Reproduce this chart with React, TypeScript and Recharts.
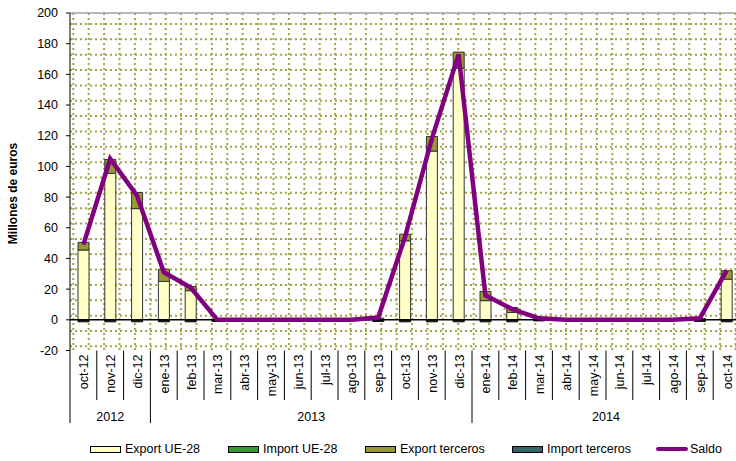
import React from 'react';
import {
  ComposedChart,
  Bar,
  Line,
  XAxis,
  YAxis,
  CartesianGrid,
  ReferenceLine,
  Legend,
} from 'recharts';

const months = [
  'oct-12', 'nov-12', 'dic-12',
  'ene-13', 'feb-13', 'mar-13', 'abr-13', 'may-13', 'jun-13', 'jul-13', 'ago-13', 'sep-13', 'oct-13', 'nov-13', 'dic-13',
  'ene-14', 'feb-14', 'mar-14', 'abr-14', 'may-14', 'jun-14', 'jul-14', 'ago-14', 'sep-14', 'oct-14',
];
const exportUE = [45.5, 95.5, 72.5, 25, 19, 0, 0, 0, 0, 0, 0, 0.6, 51.5, 110, 164, 12.5, 4.8, 0.5, 0, 0, 0, 0, 0, 0.5, 26.5];
const importUE = [-0.7, -0.7, -0.7, -0.7, -0.7, -0.6, 0, 0, 0, 0, 0, -0.6, -0.7, -0.7, -0.7, -0.7, -0.7, -0.4, 0, 0, 0, 0, 0, -0.6, -0.7];
const exportTerc = [5, 9, 10.5, 8, 2.7, 0, 0, 0, 0, 0, 0, 0.5, 4.3, 9.5, 10.5, 6, 3.2, 0.3, 0, 0, 0, 0, 0, 0.3, 5.5];
const importTerc = [-0.6, -0.6, -0.6, -0.6, -0.6, -0.5, 0, 0, 0, 0, 0, -0.5, -0.6, -0.6, -0.6, -0.6, -0.6, -0.3, 0, 0, 0, 0, 0, -0.5, -0.6];
const saldo = [49, 105, 81, 31, 21, 0, 0, 0, 0, 0, 0, 1.5, 54, 118, 173, 16, 7, 1, 0, 0, 0, 0, 0, 1, 32];
const yearLabels = ['2012', '2013', '2014'];
const yearCounts = [3, 12, 10];
const yTicks = [-20, 0, 20, 40, 60, 80, 100, 120, 140, 160, 180, 200];

const seriesNames = ['Export UE-28', 'Import UE-28', 'Export terceros', 'Import terceros', 'Saldo'];

const data = months.map((m, i) => ({
  month: m,
  exportUE: exportUE[i],
  importUE: importUE[i],
  exportTerc: exportTerc[i],
  importTerc: importTerc[i],
  saldo: saldo[i],
}));

const yearStartIndex: number[] = [];
{
  let acc = 0;
  for (const c of yearCounts) {
    yearStartIndex.push(acc);
    acc += c;
  }
}

const FONT = '"Liberation Sans", Arial, Helvetica, sans-serif';
const C_EXP_UE = '#FFFFC6';
const C_IMP_UE = '#339933';
const C_EXP_T = '#999933';
const C_IMP_T = '#336666';
const C_SALDO = '#800080';

const MonthTick = (props: any) => {
  const { x, y, payload, index } = props;
  const half = payload && typeof payload.offset === 'number' && payload.offset > 0 ? payload.offset : 13.4;
  const bw = half * 2;
  const left = x - half;
  const gi = yearStartIndex.indexOf(index);
  const isYearStart = gi >= 0;
  return (
    <g>
      <line x1={left} y1={y} x2={left} y2={y + (isYearStart ? 72.5 : 49.5)} stroke="#000" strokeWidth={1} />
      <text
        transform={`translate(${x + 1},${y + 4}) rotate(-90)`}
        textAnchor="end"
        dominantBaseline="central"
        fontSize={12.5}
        fontFamily={FONT}
        fill="#000"
      >
        {payload.value}
      </text>
      {isYearStart && (
        <text
          x={left + (yearCounts[gi] * bw) / 2}
          y={y + 66.5}
          textAnchor="middle"
          dominantBaseline="central"
          fontSize={12.5}
          fontFamily={FONT}
          fill="#000"
        >
          {yearLabels[gi]}
        </text>
      )}
    </g>
  );
};

const YLabel = () => (
  <text
    transform="translate(12.5,193.5) rotate(-90)"
    textAnchor="middle"
    dominantBaseline="central"
    fontSize={12}
    fontWeight="bold"
    fontFamily={FONT}
    fill="#000"
  >
    Millones de euros
  </text>
);

const legendColors = [C_EXP_UE, C_IMP_UE, C_EXP_T, C_IMP_T, C_SALDO];
const legendLefts = [90, 228, 365, 512, 656];

const LegendContent = () => (
  <div style={{ position: 'relative', width: 736, height: 20, fontFamily: FONT, fontSize: 12.5, color: '#000' }}>
    {seriesNames.map((name, i) => (
      <div
        key={name}
        style={{
          position: 'absolute',
          left: legendLefts[i],
          top: 0,
          height: 20,
          display: 'flex',
          alignItems: 'center',
          whiteSpace: 'nowrap',
        }}
      >
        {i < 4 ? (
          <div style={{ width: 29, height: 5, background: legendColors[i], border: '1px solid #000', marginRight: 4 }} />
        ) : (
          <div style={{ width: 32, height: 4.5, background: legendColors[i], borderRadius: 2, marginRight: 2 }} />
        )}
        <span>{name}</span>
      </div>
    ))}
  </div>
);

export default function App() {
  return (
    <div style={{ position: 'absolute', left: 0, top: 0, width: 736, height: 461, background: '#fff' }}>
      <ComposedChart
        width={736}
        height={461}
        data={data}
        stackOffset="sign"
        margin={{ top: 13, right: -4, left: 0, bottom: 0 }}
        barCategoryGap={0}
      >
        <CartesianGrid
          stroke="#a4a444"
          strokeWidth={2}
          strokeDasharray="2 3"
          verticalCoordinatesGenerator={({ offset }: any) => {
            const arr: number[] = [];
            for (let v = offset.left + 3.3; v < offset.left + offset.width; v += 15.4) arr.push(v);
            return arr;
          }}
          horizontalCoordinatesGenerator={({ offset }: any) => {
            const arr: number[] = [];
            for (let v = offset.top + 11; v < offset.top + offset.height; v += 15.35) arr.push(v);
            return arr;
          }}
        />
        <XAxis
          dataKey="month"
          height={110.5}
          axisLine={false}
          tickLine={false}
          tickSize={0}
          tickMargin={0}
          interval={0}
          tick={<MonthTick />}
        />
        <YAxis
          width={70}
          domain={[-20, 200]}
          ticks={yTicks}
          allowDataOverflow
          tickSize={4}
          tickMargin={8}
          axisLine={{ stroke: '#000', strokeWidth: 1 }}
          tickLine={{ stroke: '#000' }}
          tick={{ fontSize: 12.5, fontFamily: FONT, fill: '#000' }}
          label={<YLabel />}
        />
        <ReferenceLine y={200} stroke="#a0a0a0" strokeWidth={1.5} />
        <Bar dataKey="exportUE" name={seriesNames[0]} stackId="a" barSize={11} fill={C_EXP_UE} stroke="#333" strokeWidth={1} isAnimationActive={false} />
        <Bar dataKey="importUE" name={seriesNames[1]} stackId="a" barSize={11} fill={C_IMP_UE} stroke="#111" strokeWidth={1} isAnimationActive={false} />
        <Bar dataKey="exportTerc" name={seriesNames[2]} stackId="a" barSize={11} fill={C_EXP_T} stroke="#333" strokeWidth={1} isAnimationActive={false} />
        <Bar dataKey="importTerc" name={seriesNames[3]} stackId="a" barSize={11} fill={C_IMP_T} stroke="#111" strokeWidth={1} isAnimationActive={false} />
        <ReferenceLine y={0} stroke="#000" strokeWidth={1.5} />
        <Line
          dataKey="saldo"
          name={seriesNames[4]}
          type="linear"
          stroke={C_SALDO}
          strokeWidth={4.5}
          dot={false}
          activeDot={false}
          isAnimationActive={false}
        />
        <Legend
          layout="horizontal"
          verticalAlign="middle"
          align="center"
          wrapperStyle={{ position: 'absolute', left: 0, top: 439, width: 736, height: 20 }}
          content={() => <LegendContent />}
        />
      </ComposedChart>
    </div>
  );
}
